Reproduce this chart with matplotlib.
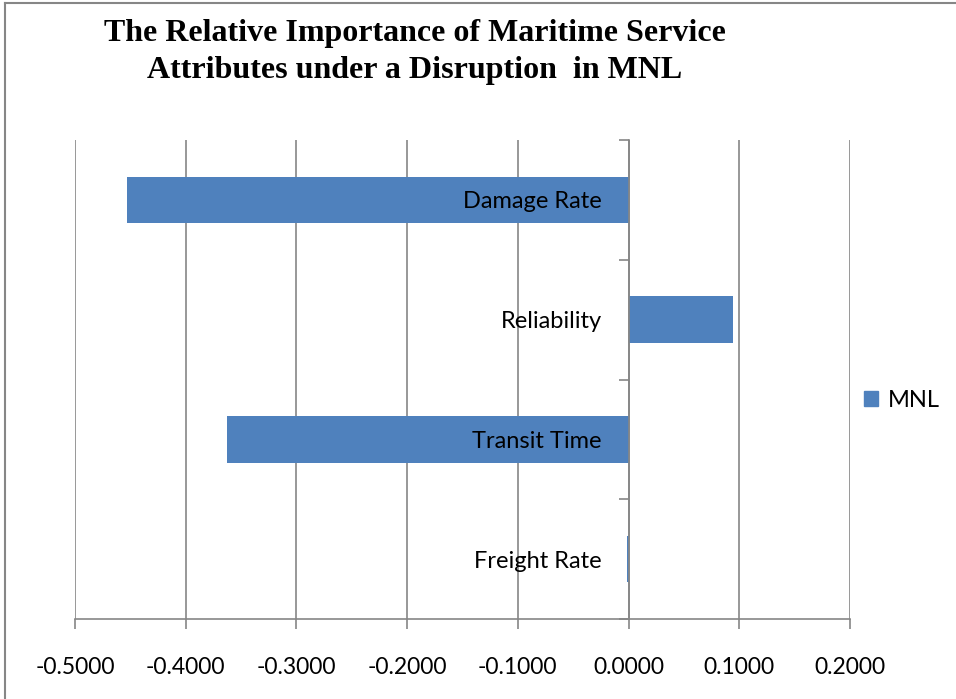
import matplotlib.pyplot as plt
from matplotlib.lines import Line2D
from matplotlib.patches import Patch
from matplotlib.transforms import offset_copy

# Datos
categorias = ['Freight Rate', 'Transit Time', 'Reliability', 'Damage Rate']
valores_mnl = [-0.0015, -0.3628, 0.0943, -0.4530]
ticks_x = [-0.5, -0.4, -0.3, -0.2, -0.1, 0.0, 0.1, 0.2]

azul = '#4F81BD'
gris = '#868686'
fuente = 'Lato'

fig = plt.figure(figsize=(9.56, 6.99), dpi=100)
ax = fig.add_axes([75 / 956, 1 - 619 / 699, 775 / 956, 479 / 699])

pos = list(range(len(categorias)))
ax.barh(pos, valores_mnl, height=0.39, color=azul, zorder=3)

ax.set_xlim(-0.5, 0.2)
ax.set_ylim(-0.5, len(categorias) - 0.5)
ax.set_xticks(ticks_x)
ax.set_xticklabels([f'{t:.4f}' for t in ticks_x], fontsize=16.5, family=fuente)
ax.grid(axis='x', color=gris, linewidth=1.2, zorder=0)

# eje vertical en cero, marcas entre categorias
for lado in ['top', 'right']:
    ax.spines[lado].set_visible(False)
ax.spines['left'].set_position(('data', 0))
ax.spines['left'].set_color(gris)
ax.spines['left'].set_linewidth(1.2)
ax.spines['left'].set_zorder(4)
ax.spines['bottom'].set_color(gris)
ax.spines['bottom'].set_linewidth(1.2)

ax.set_yticks(pos)
ax.set_yticklabels([])
ax.set_yticks([p - 0.5 for p in pos] + [len(categorias) - 0.5], minor=True)
ax.tick_params(axis='y', which='major', length=0)
ax.tick_params(axis='y', which='minor', length=7, width=1.2, color=gris)
ax.tick_params(axis='x', length=7, width=1.2, color=gris, pad=20)

# etiquetas de categoria junto al eje, por encima de las barras
trans = offset_copy(ax.transData, fig=fig, x=-27, y=-2, units='dots')
for p, nombre in zip(pos, categorias):
    ax.text(0, p, nombre, transform=trans, ha='right', va='center',
            fontsize=17, family=fuente, zorder=6)

fig.text(415 / 956, 1 - 52 / 699,
         'The Relative Importance of Maritime Service\nAttributes under a Disruption  in MNL',
         ha='center', va='center', fontsize=23, fontweight='bold',
         family='Liberation Serif', linespacing=1.35)

fig.legend(handles=[Patch(color=azul, label='MNL')], loc='center left',
           bbox_to_anchor=(864 / 956, 1 - 400 / 699), frameon=False,
           prop={'family': fuente, 'size': 17}, handlelength=0.6,
           handleheight=0.6, handletextpad=0.4, borderaxespad=0, borderpad=0)

# borde del grafico (izquierda y arriba)
fig.add_artist(Line2D([5 / 956, 5 / 956], [0, 1 - 3 / 699], color=gris, linewidth=1.5))
fig.add_artist(Line2D([5 / 956, 1], [1 - 3 / 699, 1 - 3 / 699], color=gris, linewidth=1.5))

plt.savefig('out.png', dpi=100)
